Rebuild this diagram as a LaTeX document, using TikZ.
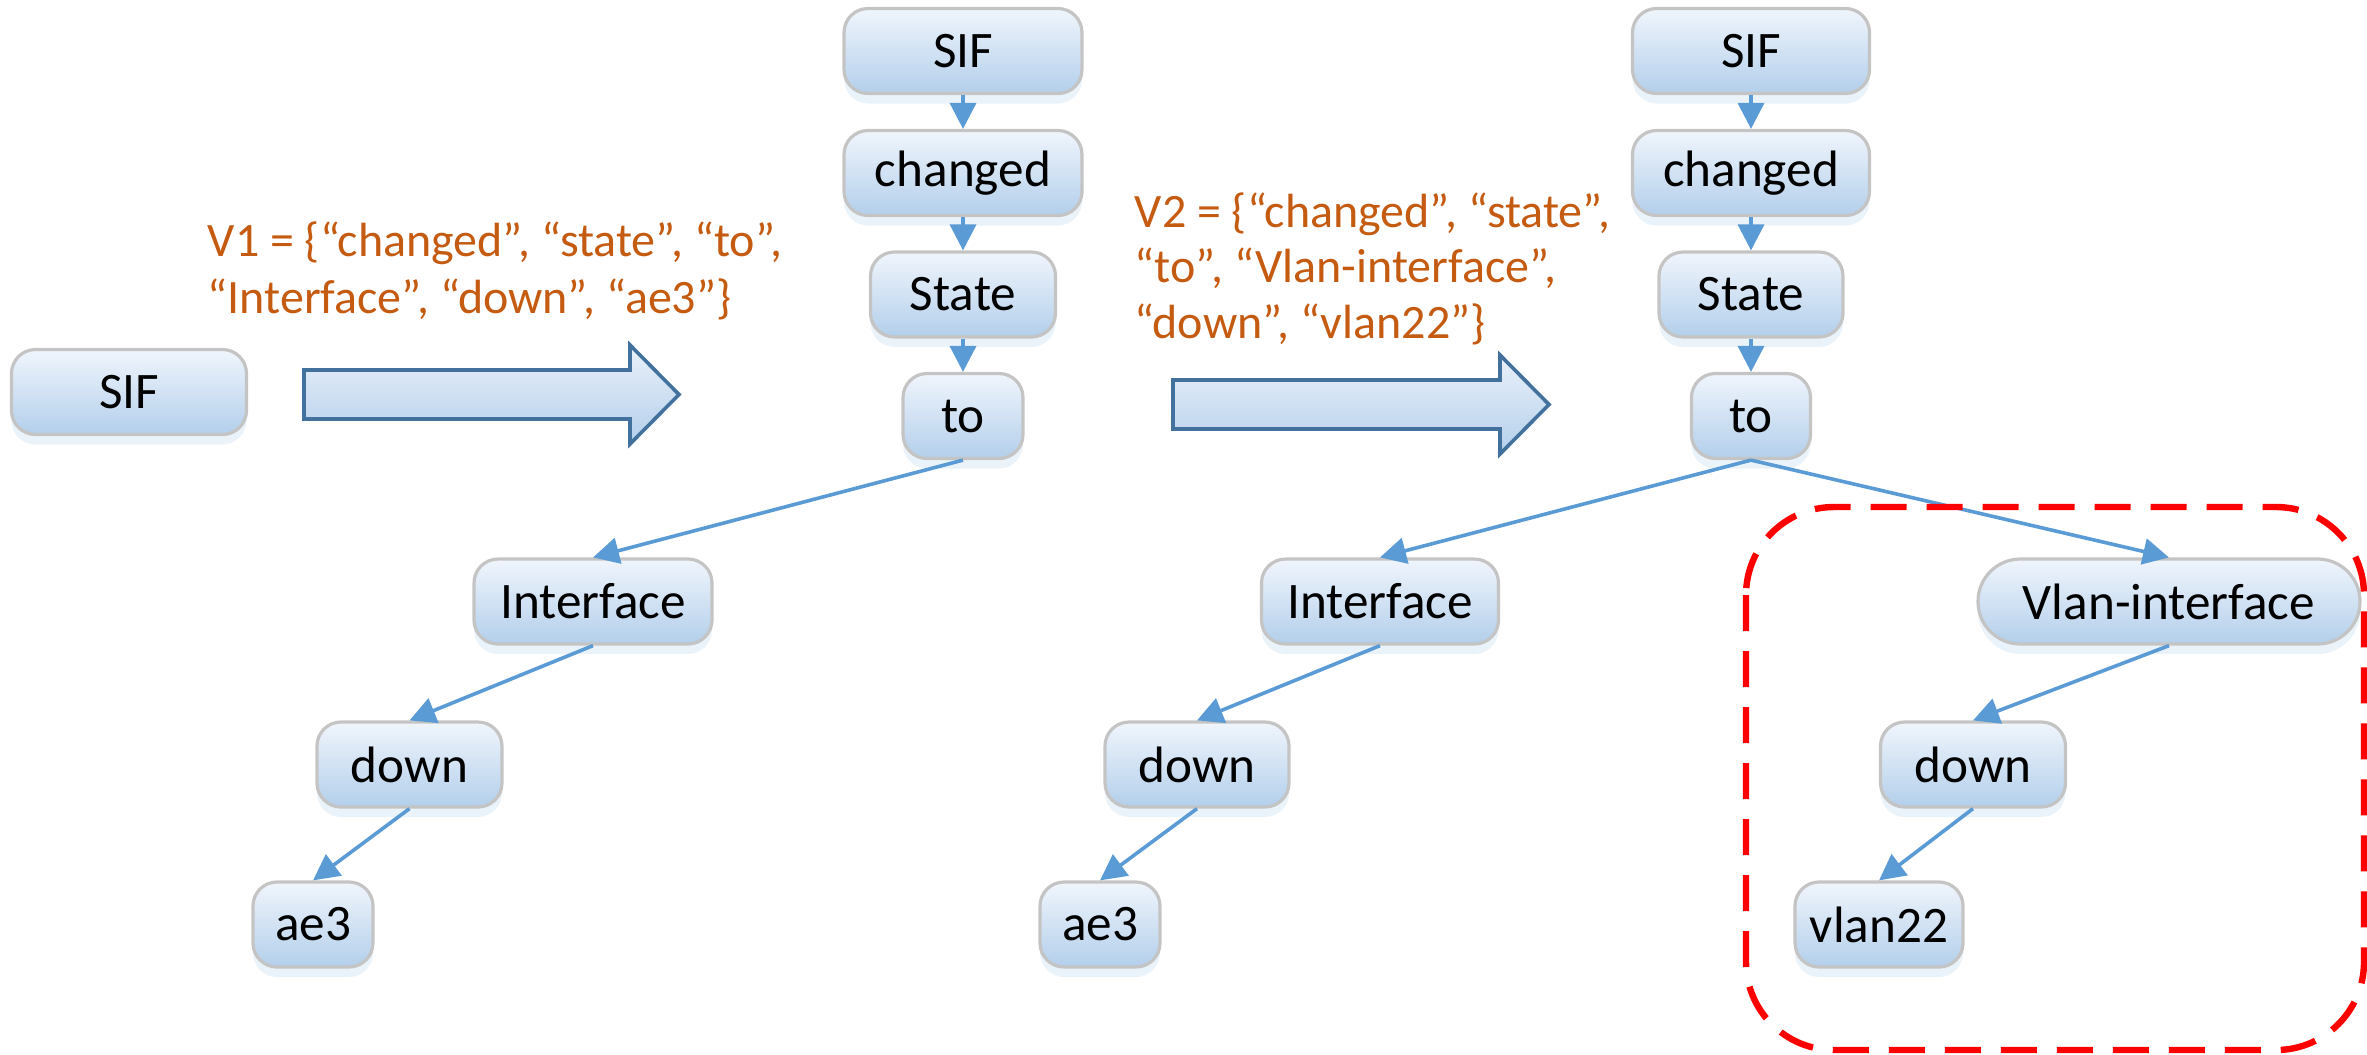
\documentclass[tikz,border=0pt]{standalone}
\usepackage{fontspec}
\setmainfont{Carlito}
\usetikzlibrary{arrows.meta,shadows}
\definecolor{boxtop}{HTML}{F0F5FC}
\definecolor{boxbot}{HTML}{B3CFEB}
\definecolor{boxline}{HTML}{C4C4C4}
\definecolor{linkblue}{HTML}{5B9BD5}
\definecolor{vtext}{HTML}{C55A11}
\definecolor{bigline}{HTML}{41719C}
\definecolor{bigtop}{HTML}{EAF1FA}
\definecolor{bigbot}{HTML}{B4CFEB}
\tikzset{
  wbox/.style={rounded corners=6pt, draw=boxline, line width=0.8pt,
    top color=boxtop, bottom color=boxbot, minimum height=21.25pt,
    inner sep=0pt, font=\fontsize{12.8}{15}\selectfont,
    drop shadow={shadow xshift=0pt, shadow yshift=-2.5pt, fill=linkblue!40, opacity=0.3}},
  pillbox/.style={wbox, rounded corners=10.6pt},
  link/.style={draw=linkblue, line width=0.9pt, -{Triangle[length=6.5pt,width=6.5pt]}},
  bigarrow/.style={draw=bigline, line width=0.9pt, top color=bigtop, bottom color=bigbot},
  vlab/.style={text=vtext, font=\fontsize{12}{14}\selectfont, inner sep=0pt},
  redbox/.style={draw=red, line width=1.6pt, dash pattern=on 9pt off 5pt, rounded corners=22pt}
}
\begin{document}
\begin{tikzpicture}[x=0.25pt,y=-0.25pt]
\useasboundingbox (0,0) rectangle (2367,1054);

% left single node
\node[wbox, minimum width=58.75pt] (sif0) at (129,392) {SIF};

% big arrows
\path[bigarrow] (304,370) -- (630,370) -- (630,345) -- (679,394.5) -- (630,444) -- (630,419) -- (304,419) -- cycle;
\path[bigarrow] (1173,380) -- (1500,380) -- (1500,355) -- (1549,404.5) -- (1500,454) -- (1500,429) -- (1173,429) -- cycle;

% V labels
\node[vlab, anchor=base west] (v1a) at (207,256) {V1 = \{“changed”, “state”, “to”,};
\node[vlab, anchor=base west] (v1b) at (207,313) {“Interface”, “down”, “ae3”\}};
\node[vlab, anchor=base west] (v2a) at (1134,227) {V2 = \{“changed”, “state”,};
\node[vlab, anchor=base west] (v2b) at (1134,282) {“to”, “Vlan-interface”,};
\node[vlab, anchor=base west] (v2c) at (1134,338) {“down”, “vlan22”\}};

% middle tree
\node[wbox, minimum width=59.5pt] (sifA) at (963,51) {SIF};
\node[wbox, minimum width=59.5pt] (chA) at (963,173) {changed};
\node[wbox, minimum width=46.25pt] (stA) at (963,294.5) {State};
\node[wbox, minimum width=30pt] (toA) at (963,416) {to};
\node[wbox, minimum width=59.5pt] (ifA) at (593,601.5) {Interface};
\node[wbox, minimum width=46.25pt] (dnA) at (409.5,764.5) {down};
\node[wbox, minimum width=30pt] (aeA) at (313,924.5) {ae3};

\draw[link] (sifA.south) -- (chA.north);
\draw[link] (chA.south) -- (stA.north);
\draw[link] (stA.south) -- (toA.north);
\draw[link] (toA.south) -- (ifA.north);
\draw[link] (ifA.south) -- (dnA.north);
\draw[link] (dnA.south) -- (aeA.north);

% right tree
\node[wbox, minimum width=59.25pt] (sifB) at (1751,51) {SIF};
\node[wbox, minimum width=59.25pt] (chB) at (1751,173) {changed};
\node[wbox, minimum width=46pt] (stB) at (1751,294.5) {State};
\node[wbox, minimum width=29.75pt] (toB) at (1751,416) {to};
\node[wbox, minimum width=59.25pt] (ifB) at (1380,601.5) {Interface};
\node[wbox, minimum width=46pt] (dnB) at (1197,764.5) {down};
\node[wbox, minimum width=30pt] (aeB) at (1100,924.5) {ae3};
\node[pillbox, minimum width=95.5pt] (vlC) at (2169,601.5) {Vlan-interface};
\node[wbox, minimum width=46.25pt] (dnC) at (1973,764.5) {down};
\node[wbox, minimum width=42pt] (vlanC) at (1879,924.5) {vlan22};

\draw[link] (sifB.south) -- (chB.north);
\draw[link] (chB.south) -- (stB.north);
\draw[link] (stB.south) -- (toB.north);
\draw[link] (toB.south) -- (ifB.north);
\draw[link] (toB.south) -- (vlC.north);
\draw[link] (ifB.south) -- (dnB.north);
\draw[link] (dnB.south) -- (aeB.north);
\draw[link] (vlC.south) -- (dnC.north);
\draw[link] (dnC.south) -- (vlanC.north);

% highlight
\draw[redbox] (1746,507) rectangle (2364,1050);
\end{tikzpicture}
\end{document}
